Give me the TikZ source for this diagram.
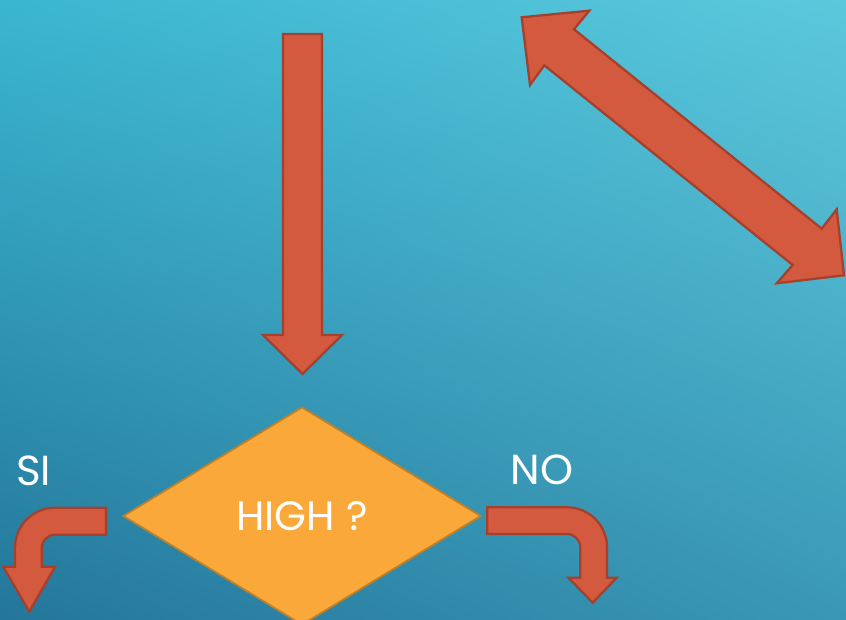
\documentclass[tikz,border=0pt]{standalone}
\usepackage{fontspec}
\setmainfont{Poppins}
\usetikzlibrary{shapes.geometric,shadings}
\definecolor{bgTL}{RGB}{58,182,209}
\definecolor{bgTR}{RGB}{92,200,220}
\definecolor{bgBL}{RGB}{36,118,154}
\definecolor{bgBR}{RGB}{58,152,182}
\definecolor{arrowfill}{RGB}{211,90,63}
\definecolor{arrowline}{RGB}{165,64,45}
\definecolor{diafill}{RGB}{251,168,58}
\definecolor{dialine}{RGB}{190,128,40}
\tikzset{
  blockarrow/.style={fill=arrowfill,draw=arrowline,line width=2.3pt,line join=miter},
  decision/.style={diamond,fill=diafill,draw=dialine,line width=1.8pt,inner sep=0pt,
    minimum width=358pt,minimum height=218pt,text=white,font=\fontsize{41}{44}\selectfont},
  label/.style={text=white,font=\fontsize{42}{44}\selectfont,inner sep=0pt}
}
\begin{document}
\begin{tikzpicture}[x=1pt,y=-1pt]
\useasboundingbox (0,0) rectangle (846,620);
\clip (0,0) rectangle (846,620);
\shade[upper left=bgTL,upper right=bgTR,lower left=bgBL,lower right=bgBR] (0,0) rectangle (846,620);
% main down arrow
\draw[blockarrow] (283,34) -- (322,34) -- (322,335) -- (342,335) -- (302.5,374) -- (263,335) -- (283,335) -- cycle;
% double-headed diagonal arrow
\draw[blockarrow] (521.7,17.3) -- (589.3,10.7) -- (574,29.3) -- (821.7,228.7) -- (836.7,209.3)
  -- (844,275.3) -- (776.7,283.3) -- (792.7,265) -- (544.3,65.3) -- (530,85) -- cycle;
% decision
\node[decision] (high) at (302,516) {HIGH ?};
% left bent arrow (SI)
\draw[blockarrow] (106,507.7) -- (55,507.7) .. controls (32.9,507.7) and (15,525.6) .. (15,547.7)
  -- (15,566.7) -- (3.3,566.7) -- (29.3,611.7) -- (55,566.7) -- (41.7,566.7) -- (41.7,548)
  .. controls (41.7,540.65) and (47.65,534.7) .. (55,534.7) -- (106,534.7) -- cycle;
% right bent arrow (NO)
\draw[blockarrow] (487.3,507.3) -- (567,507.3) .. controls (589.1,507.3) and (607,525.2) .. (607,547.3)
  -- (607,577.7) -- (616.7,577.7) -- (592.7,602.7) -- (568.3,577.7) -- (580.3,577.7) -- (580.3,547.3)
  .. controls (580.3,540) and (574.3,534) .. (567,534) -- (487.3,534) -- cycle;
% labels
\node[label] (si) at (33.5,471) {SI};
\node[label] (no) at (542,470) {NO};
\end{tikzpicture}
\end{document}
